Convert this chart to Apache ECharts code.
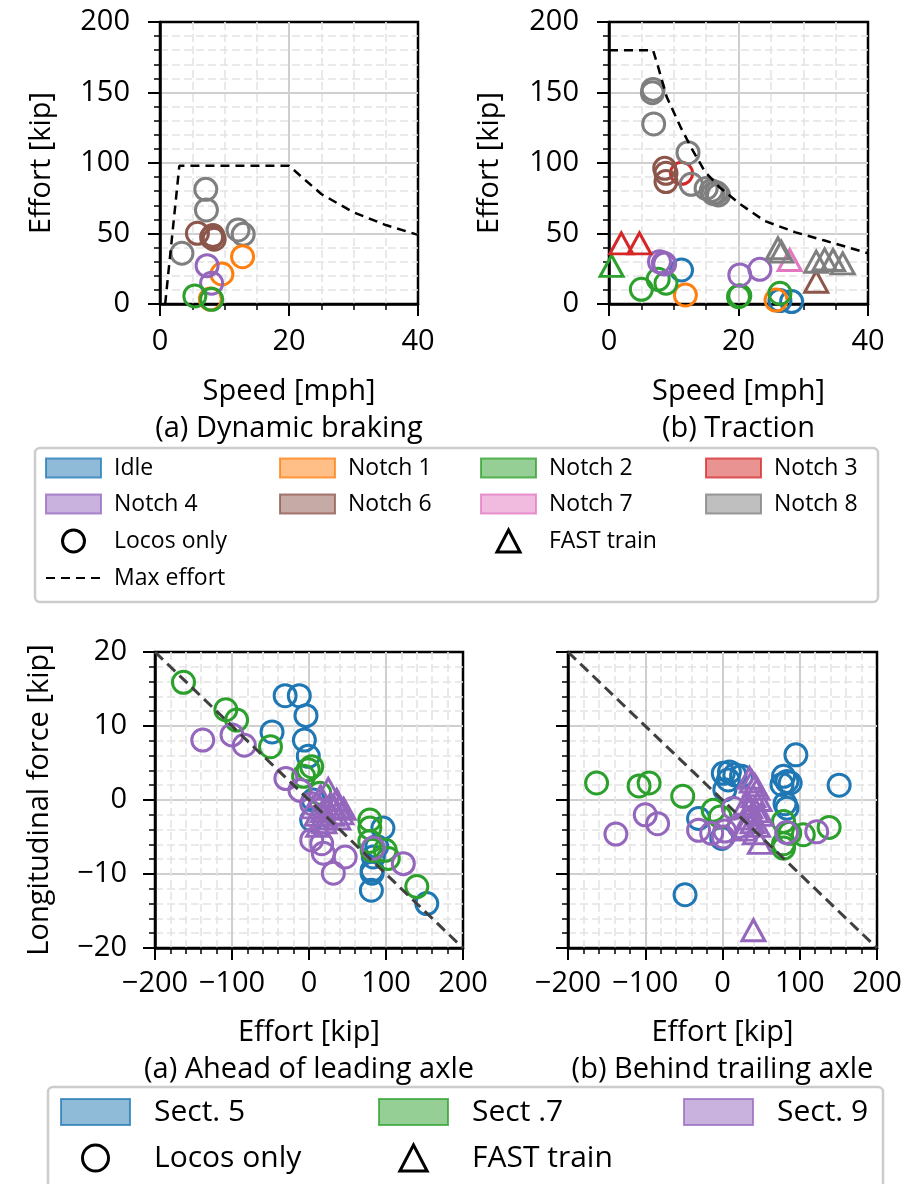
<!DOCTYPE html>
<html>
<head>
<meta charset="utf-8">
<script src="https://cdn.jsdelivr.net/npm/echarts@6/dist/echarts.min.js"></script>
<style>
  html, body { margin: 0; padding: 0; background: #fff; }
  #chart { width: 917px; height: 1184px; }
</style>
</head>
<body>
<div id="chart"></div>
<script>
// ---- data ----
// (a) dynamic braking, locos only: [speed mph, effort kip]
const brakeNotch1 = [[12.8, 33.5], [9.6, 21.3], [7.8, 3.5]];
const brakeNotch2 = [[5.4, 5.7], [8.0, 3.3]];
const brakeNotch4 = [[7.3, 27.2], [8.0, 14.7]];
const brakeNotch6 = [[5.8, 50.1], [8.0, 47.3], [8.4, 45.9], [8.2, 48.5]];
const brakeNotch8 = [[7.1, 81.3], [7.2, 66.7], [12.1, 52.5], [12.9, 49.4], [3.4, 36]];
const brakeMaxSpeed = [0.8, 3, 20, 25, 30, 35, 40];
const brakeMaxEffort = [0, 98, 98, 78, 65, 56, 49];

// (b) traction, locos only
const tracIdle = [[11.2, 24.1], [26.4, 2.4], [28.2, 1.7]];
const tracNotch1 = [[11.8, 6.4], [25.8, 2.8]];
const tracNotch2 = [[5.0, 10.4], [7.6, 17.5], [8.8, 14.7], [20.2, 5.9], [20.0, 5.2], [26.4, 7.6]];
const tracNotch3 = [[11.2, 92.7]];
const tracNotch4 = [[7.8, 30], [8.4, 29], [8.6, 28.4], [20.2, 20.6], [23.3, 24.6]];
const tracNotch6 = [[8.6, 96.2], [8.8, 92.7], [8.8, 86.8]];
const tracNotch8 = [[6.8, 152.2], [6.7, 149.9], [6.9, 127.7], [12.2, 107.3], [12.7, 84.9],
  [15.0, 82], [15.8, 80.4], [16.1, 78.5], [16.6, 78.9], [16.9, 77.3]];
// (b) traction, FAST train
const fastNotch2 = [[0.4, 27]];
const fastNotch3 = [[1.9, 43], [4.7, 43]];
const fastNotch6 = [[32.0, 15.8]];
const fastNotch7 = [[27.9, 31.2]];
const fastNotch8 = [[26.1, 39.5], [26.6, 37.1], [32.0, 30], [33.3, 31.6], [34.6, 31.2], [36.1, 28.8]];
const tracMaxSpeed = [0, 6.8, 7.6, 8.9, 11, 12.8, 14.8, 17, 20.2, 24, 28.7, 33.3, 40];
const tracMaxEffort = [180, 180, 168, 147, 126, 110, 94, 83, 71, 59, 51, 45, 36];

// (a) ahead of leading axle: [effort kip, longitudinal force kip]
const aheadSect5 = [[-31, 14.1], [-12.6, 14.1], [-3.9, 11.4], [-48, 9.2], [-6, 8.1], [-0.9, 5.9],
  [5.6, 0], [3.5, -2.7], [96, -3.8], [83.5, -7.7], [82, -9.5], [82, -9.9], [81, -12.2], [153, -14], [88, -6.3]];
const aheadSect7 = [[-163, 15.9], [-108, 12.2], [-94, 10.8], [-50, 7.2], [3.5, 4.5], [-1, 4.1], [-7, 3.2],
  [14, 0.9], [79, -2.7], [79, -3.8], [79, -5.6], [99, -6.8], [103, -7.9], [140, -11.7], [82, -6.8]];
const aheadSect9 = [[-138, 8.1], [-100, 8.8], [-84, 7.4], [-30, 2.9], [-11.7, 1.3], [3.5, -0.5], [3.5, -5.4],
  [16.5, -5.9], [18.6, -7.2], [47, -7.7], [31.6, -9.9], [83.5, -6.5], [122.5, -8.6]];
const aheadFast9 = [[5, -1], [10, -2], [15, 0.5], [18, -1.5], [22, -2.5], [25, 1.5], [28, -0.5], [30, -2],
  [33, -1], [36, 0], [38, -2.5], [40, -1], [42, -1.8], [45, -1.2], [20, -3], [12, -3.5]];

// (b) behind trailing axle
const behindSect5 = [[95, 6.1], [151, 2], [1, 3.6], [7.5, 2.7], [16, 3.4], [24.6, 3.2], [3, 1.4], [9, 3.8],
  [79, 3.2], [83.4, 2.5], [87.6, 2.3], [77, 2.1], [81, -0.5], [83.4, -1.1], [-31, -2.5], [-1, -5.2], [-48.5, -12.8]];
const behindSect7 = [[-163, 2.3], [-108, 1.9], [-95, 2.3], [-51.5, 0.5], [-12, -1.4], [-3, -2.3], [79, -2.9],
  [79, -5.9], [79, -6.5], [104.6, -4.7], [138, -3.7], [87, -4.5]];
const behindSect9 = [[-138, -4.6], [-100, -2], [-84, -3.2], [-31, -4.1], [-14, -4.5], [1, -5], [3, -4.2],
  [14, -1.1], [83, -4.4], [122, -4.3], [21.6, -3.6]];
const behindFast9 = [[35, 3.0], [38, 2.5], [42, 2], [45, 1.5], [40, 0.5], [48, 0], [30, -0.5], [36, -1],
  [44, -1.5], [50, -2], [33, -2.5], [39, -3], [46, -3.5], [28, -4], [42, -4.5], [48.5, -5.8], [40, -17.6]];

const diagEffort = [-200, 200];
const diagForce = [20, -20];

const colors = {
  'Idle': '#1f77b4', 'Notch 1': '#ff7f0e', 'Notch 2': '#2ca02c', 'Notch 3': '#d62728',
  'Notch 4': '#9467bd', 'Notch 6': '#8c564b', 'Notch 7': '#e377c2', 'Notch 8': '#7f7f7f',
  'Sect. 5': '#1f77b4', 'Sect .7': '#2ca02c', 'Sect. 9': '#9467bd'
};

const FONT = 'Open Sans';
const minus = (v) => String(v).replace('-', '\u2212');

function rgba(hex, a) {
  const n = parseInt(hex.slice(1), 16);
  return 'rgba(' + (n >> 16) + ',' + ((n >> 8) & 255) + ',' + (n & 255) + ',' + a + ')';
}

function axis(o) {
  return {
    type: 'value', gridIndex: o.grid, min: o.min, max: o.max, interval: o.interval,
    name: o.name || '', nameLocation: 'middle', nameGap: o.nameGap || 0, nameRotate: o.rotate || 0,
    nameTextStyle: { fontFamily: FONT, fontSize: 29, color: '#000', lineHeight: 37 },
    axisLine: { show: true, onZero: false, lineStyle: { color: '#000', width: 2.5 } },
    axisTick: { show: true, length: 12, lineStyle: { color: '#000', width: 2 } },
    minorTick: { show: true, splitNumber: o.minor, length: 6, lineStyle: { color: '#000', width: 1.5 } },
    axisLabel: { show: o.labels !== false, fontFamily: FONT, fontSize: 29, color: '#000', margin: o.margin, formatter: minus },
    splitLine: { show: true, showMinLine: false, showMaxLine: false, lineStyle: { color: '#cfcfcf', width: 2 } },
    minorSplitLine: { show: true, lineStyle: { color: '#e4e4e4', width: 1.6, type: [8, 4] } }
  };
}

function marks(name, data, idx, shape) {
  return {
    type: 'scatter', name: name, data: data, xAxisIndex: idx, yAxisIndex: idx,
    symbol: shape === 'tri' ? 'triangle' : 'circle',
    symbolSize: shape === 'tri' ? [23, 21] : 22,
    itemStyle: { color: 'transparent', borderColor: colors[name], borderWidth: 3, opacity: 1 },
    silent: true, z: 3
  };
}

function dashed(name, xs, ys, idx, color, width, dash) {
  return {
    type: 'line', name: name, data: xs.map((x, i) => [x, ys[i]]), xAxisIndex: idx, yAxisIndex: idx,
    symbol: 'none', silent: true, z: 4, itemStyle: { color: color },
    lineStyle: { color: color, width: width, type: dash }
  };
}

const blackOutline = { color: 'transparent', borderColor: '#000', borderWidth: 3, opacity: 1 };

function legendItem(name, w, h) {
  if (colors[name]) {
    return { name: name, icon: 'path://M0,0H' + w + 'V' + h + 'H0Z',
      itemStyle: { color: rgba(colors[name], 0.5), borderColor: rgba(colors[name], 0.75), borderWidth: 2, opacity: 1 } };
  }
  if (name === 'Locos only') {
    return { name: name, icon: 'circle', itemStyle: blackOutline };
  }
  if (name === 'FAST train') {
    return { name: name, icon: 'path://M11,0L22,21H0Z', itemStyle: blackOutline };
  }
  // dashed line only, no symbol
  return { name: name, itemStyle: { color: 'transparent', borderColor: 'transparent', borderWidth: 0 } };
}

function legendCol(left, top, names, big) {
  const w = big ? 69 : 55, h = big ? 26 : 19;
  return {
    orient: 'vertical', left: left, top: top, padding: 0, selectedMode: false,
    itemWidth: w, itemHeight: big ? 26 : 22, itemGap: big ? 16 : 13,
    textStyle: { fontFamily: FONT, fontSize: big ? 30 : 23, color: '#000', padding: [0, 0, 0, big ? 19 : 8] },
    data: names.map((n) => legendItem(n, w, h))
  };
}

const chart = echarts.init(document.getElementById('chart'), null, { renderer: 'canvas' });

const gridBase = { show: true, borderColor: '#000', borderWidth: 2.5, outerBoundsMode: 'none', containLabel: false };

chart.setOption({
  animation: false,
  backgroundColor: '#fff',
  grid: [
    Object.assign({ left: 160, top: 22, width: 258, height: 282 }, gridBase),
    Object.assign({ left: 609, top: 22, width: 259, height: 282 }, gridBase),
    Object.assign({ left: 155, top: 652, width: 308, height: 296 }, gridBase),
    Object.assign({ left: 568, top: 652, width: 309, height: 296 }, gridBase)
  ],
  xAxis: [
    axis({ grid: 0, min: 0, max: 40, interval: 20, minor: 4, margin: 23, name: 'Speed [mph]\n(a) Dynamic braking', nameGap: 69 }),
    axis({ grid: 1, min: 0, max: 40, interval: 20, minor: 4, margin: 23, name: 'Speed [mph]\n(b) Traction', nameGap: 69 }),
    axis({ grid: 2, min: -200, max: 200, interval: 100, minor: 5, margin: 21, name: 'Effort [kip]\n(a) Ahead of leading axle', nameGap: 66 }),
    axis({ grid: 3, min: -200, max: 200, interval: 100, minor: 5, margin: 21, name: 'Effort [kip]\n(b) Behind trailing axle', nameGap: 66 })
  ],
  yAxis: [
    axis({ grid: 0, min: 0, max: 200, interval: 50, minor: 5, margin: 30, name: 'Effort [kip]', nameGap: 100, rotate: 90 }),
    axis({ grid: 1, min: 0, max: 200, interval: 50, minor: 5, margin: 30, name: 'Effort [kip]', nameGap: 101, rotate: 90 }),
    axis({ grid: 2, min: -20, max: 20, interval: 10, minor: 5, margin: 28, name: 'Longitudinal force [kip]', nameGap: 97, rotate: 90 }),
    axis({ grid: 3, min: -20, max: 20, interval: 10, minor: 5, margin: 28, labels: false })
  ],
  legend: [
    legendCol(45, 456.5, ['Idle', 'Notch 4', 'Locos only', 'Max effort']),
    legendCol(279, 456.5, ['Notch 1', 'Notch 6']),
    legendCol(480, 456.5, ['Notch 2', 'Notch 7', 'FAST train']),
    legendCol(705, 456.5, ['Notch 3', 'Notch 8']),
    legendCol(60, 1097, ['Sect. 5', 'Locos only'], true),
    legendCol(378, 1097, ['Sect .7', 'FAST train'], true),
    legendCol(683, 1097, ['Sect. 9'], true)
  ],
  graphic: [
    { type: 'rect', z: 0, shape: { x: 35, y: 448, width: 843, height: 154, r: 5 },
      style: { fill: '#fff', stroke: '#cccccc', lineWidth: 2.5 } },
    { type: 'rect', z: 0, shape: { x: 48, y: 1087, width: 835, height: 130, r: 5 },
      style: { fill: '#fff', stroke: '#cccccc', lineWidth: 2.5 } }
  ],
  series: [
    // legend-only markers
    { type: 'scatter', name: 'Locos only', data: [], symbol: 'circle', xAxisIndex: 0, yAxisIndex: 0,
      itemStyle: blackOutline },
    { type: 'scatter', name: 'FAST train', data: [], symbol: 'triangle', xAxisIndex: 0, yAxisIndex: 0,
      itemStyle: blackOutline },

    dashed('Max effort', brakeMaxSpeed, brakeMaxEffort, 0, '#000', 2.5, [9, 6]),
    marks('Notch 8', brakeNotch8, 0),
    marks('Notch 6', brakeNotch6, 0),
    marks('Notch 1', brakeNotch1, 0),
    marks('Notch 4', brakeNotch4, 0),
    marks('Notch 2', brakeNotch2, 0),

    dashed('Max effort', tracMaxSpeed, tracMaxEffort, 1, '#000', 2.5, [9, 6]),
    marks('Idle', tracIdle, 1),
    marks('Notch 1', tracNotch1, 1),
    marks('Notch 2', tracNotch2, 1),
    marks('Notch 3', tracNotch3, 1),
    marks('Notch 4', tracNotch4, 1),
    marks('Notch 6', tracNotch6, 1),
    marks('Notch 8', tracNotch8, 1),
    marks('Notch 2', fastNotch2, 1, 'tri'),
    marks('Notch 3', fastNotch3, 1, 'tri'),
    marks('Notch 6', fastNotch6, 1, 'tri'),
    marks('Notch 7', fastNotch7, 1, 'tri'),
    marks('Notch 8', fastNotch8, 1, 'tri'),

    dashed('1:1', diagEffort, diagForce, 2, '#404040', 3, [11, 6]),
    marks('Sect. 5', aheadSect5, 2),
    marks('Sect .7', aheadSect7, 2),
    marks('Sect. 9', aheadSect9, 2),
    marks('Sect. 9', aheadFast9, 2, 'tri'),

    dashed('1:1', diagEffort, diagForce, 3, '#404040', 3, [11, 6]),
    marks('Sect. 5', behindSect5, 3),
    marks('Sect .7', behindSect7, 3),
    marks('Sect. 9', behindSect9, 3),
    marks('Sect. 9', behindFast9, 3, 'tri')
  ]
});
</script>
</body>
</html>
